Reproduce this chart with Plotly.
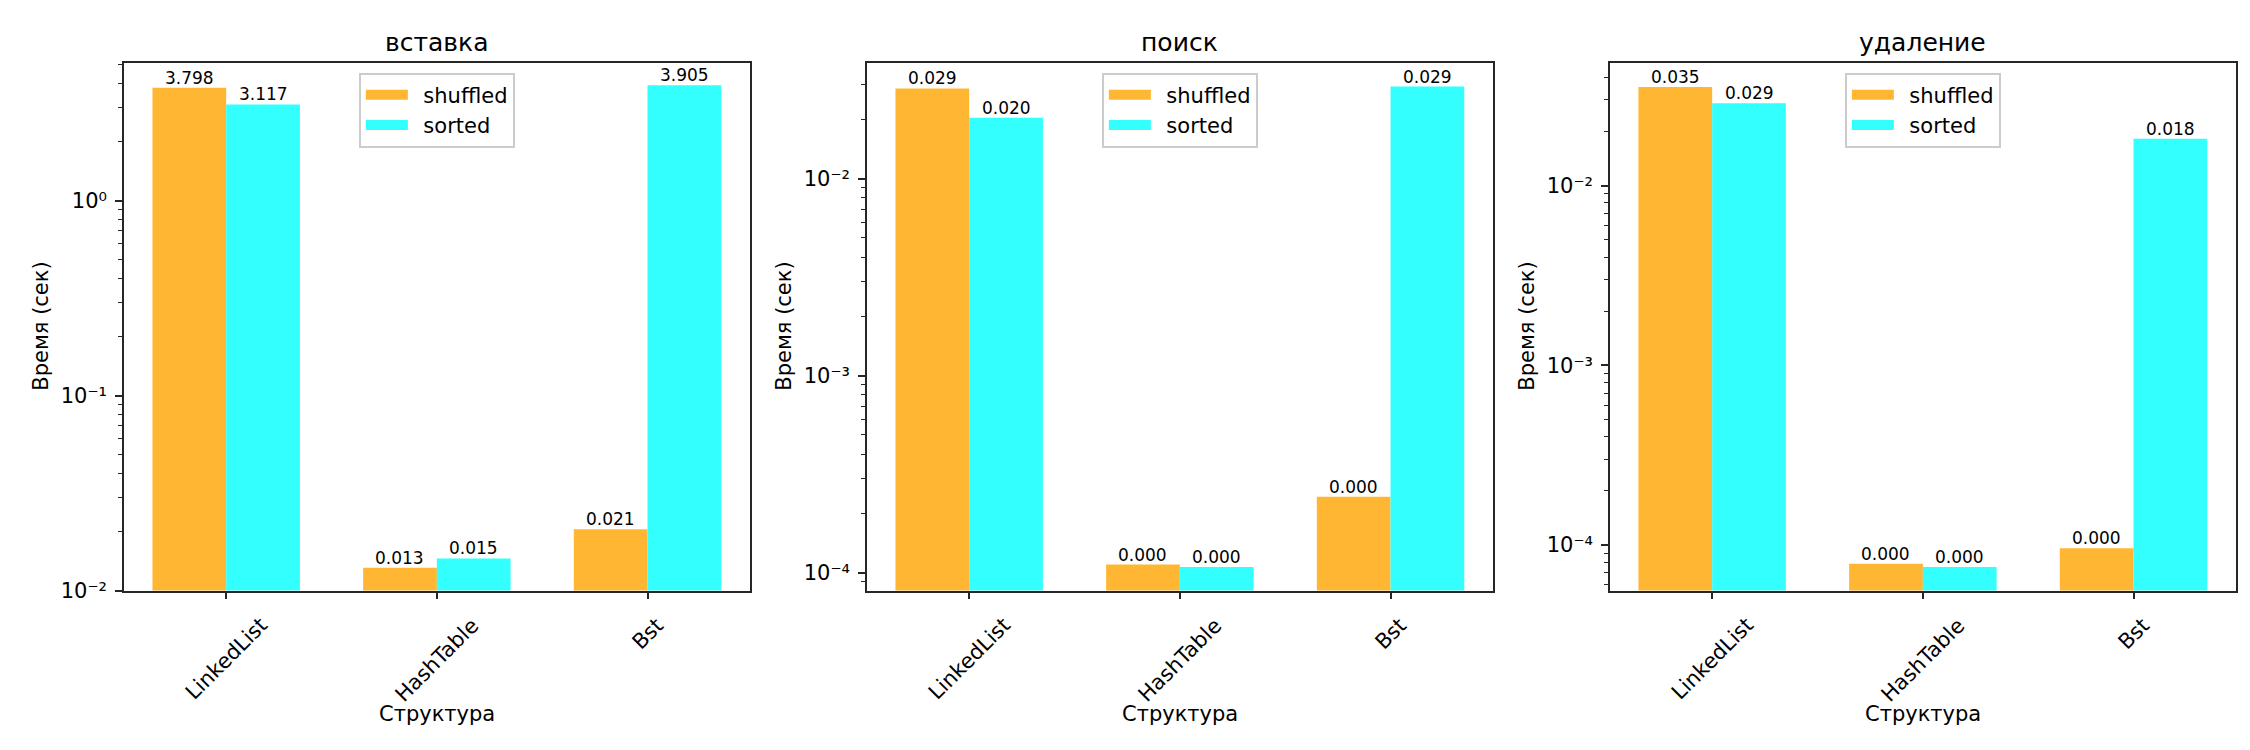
import math
import plotly.graph_objects as go

# Data (seconds)
categories = ["LinkedList", "HashTable", "Bst"]
operations = ["вставка", "поиск", "удаление"]
series_names = ["shuffled", "sorted"]

insert_shuffled = [3.798, 0.0131, 0.0206]
insert_sorted = [3.117, 0.0146, 3.905]
search_shuffled = [0.0287, 0.0001098, 0.000243]
search_sorted = [0.0204, 0.0001068, 0.02935]
delete_shuffled = [0.0354, 0.0000786, 0.0000958]
delete_sorted = [0.0287, 0.0000753, 0.01824]

panel_values = [
    (insert_shuffled, insert_sorted),
    (search_shuffled, search_sorted),
    (delete_shuffled, delete_sorted),
]

# layout of the three panels (paper coords) and log ranges
x_domains = [[0.05156, 0.32964], [0.38178, 0.65987], [0.71200, 0.99009]]
y_domain = [0.21067, 0.92573]
y_ranges = [[-2.0, 0.707], [-4.091, -1.412], [-4.254, -1.317]]
x_range = [-0.485, 2.485]

colors = ["#FFB733", "#33FFFF"]
FONT = "DejaVu Sans"
AXIS_COLOR = "#262626"
SUP = str.maketrans("-0123456789", "\u207b\u2070\u00b9\u00b2\u00b3\u2074\u2075\u2076\u2077\u2078\u2079")

# half a bar width in pixels (bar = 0.35 of a category slot)
panel_px = (x_domains[0][1] - x_domains[0][0]) * 2250
half_bar = 0.35 / (x_range[1] - x_range[0]) * panel_px / 2

fig = go.Figure()
annotations = []
layout = {}

for i, (op, vals) in enumerate(zip(operations, panel_values)):
    n = "" if i == 0 else str(i + 1)
    xa, ya = "x" + n, "y" + n
    leg = "legend" + n

    for j, (name, v, c) in enumerate(zip(series_names, vals, colors)):
        fig.add_trace(go.Bar(
            x=categories, y=v, name=name, showlegend=False,
            marker=dict(color=c, line=dict(width=0)),
            xaxis=xa, yaxis=ya,
        ))
        # wide swatch for the legend, like the reference
        # (en space keeps the gap between swatch and label)
        fig.add_trace(go.Scatter(
            x=[None], y=[None], mode="lines", name="\u2002" + name,
            line=dict(color=c, width=15),
            xaxis=xa, yaxis=ya, legend=leg, hoverinfo="skip",
        ))
        # value labels on top of each bar
        shift = -half_bar if j == 0 else half_bar
        for cat, t in zip(categories, v):
            annotations.append(dict(
                text="%.3f" % t, x=cat, y=math.log10(t), xref=xa, yref=ya,
                xanchor="center", yanchor="bottom", xshift=shift, yshift=-2,
                showarrow=False, font=dict(size=17, color="black", family=FONT),
            ))

    lo, hi = y_ranges[i]
    decades = range(math.floor(lo), math.ceil(hi) + 1)
    majors = [10.0 ** e for e in decades if lo <= e <= hi]
    minors = [k * 10.0 ** e for e in decades for k in range(2, 10)
              if lo <= math.log10(k * 10.0 ** e) <= hi]
    major_text = ["10" + str(round(math.log10(m))).translate(SUP) for m in majors]

    layout["xaxis" + n] = dict(
        domain=x_domains[i], anchor=ya, type="category",
        range=x_range,
        showline=True, mirror=True, linecolor=AXIS_COLOR, linewidth=1.7,
        ticks="outside", ticklen=7, tickwidth=1.7, tickcolor=AXIS_COLOR,
        showticklabels=False, showgrid=False, zeroline=False,
    )
    layout["yaxis" + n] = dict(
        domain=y_domain, anchor=xa, type="log", range=[lo, hi],
        showline=True, mirror=True, linecolor=AXIS_COLOR, linewidth=1.7,
        ticks="outside", ticklen=7, tickwidth=1.7, tickcolor=AXIS_COLOR,
        tickmode="array", tickvals=majors, ticktext=major_text,
        tickfont=dict(size=21, color="black", family=FONT),
        ticklabelstandoff=4,
        minor=dict(tickmode="array", tickvals=minors, ticks="outside",
                   ticklen=4, tickwidth=1.2, tickcolor=AXIS_COLOR,
                   showgrid=False),
        showgrid=False, zeroline=False,
    )

    cx = (x_domains[i][0] + x_domains[i][1]) / 2
    layout[leg] = dict(
        x=cx, xanchor="center", y=0.9124, yanchor="top",
        xref="paper", yref="paper", itemwidth=42,
        bgcolor="rgba(255,255,255,0.8)", bordercolor="#cccccc", borderwidth=2,
        font=dict(size=21, color="black", family=FONT),
        tracegroupgap=0,
    )

    # panel title
    annotations.append(dict(
        text=op, x=cx, y=y_domain[1], xref="paper", yref="paper",
        xanchor="center", yanchor="middle", yshift=20, showarrow=False,
        font=dict(size=25, color="black", family=FONT),
    ))
    # x axis title
    annotations.append(dict(
        text="Структура", x=cx, y=y_domain[0], xref="paper", yref="paper",
        xanchor="center", yanchor="middle", yshift=-123,
        showarrow=False, font=dict(size=21, color="black", family=FONT),
    ))
    # y axis title
    annotations.append(dict(
        text="Время (сек)", x=x_domains[i][0], y=sum(y_domain) / 2,
        xref="paper", yref="paper", xanchor="center", yanchor="middle",
        xshift=-83, textangle=-90, showarrow=False,
        font=dict(size=21, color="black", family=FONT),
    ))
    # rotated category labels, centred under each tick
    for cat in categories:
        annotations.append(dict(
            text=cat, x=cat, y=0, xref=xa, yref=ya + " domain",
            xanchor="center", yanchor="top", yshift=-20, textangle=-45,
            showarrow=False, font=dict(size=21, color="black", family=FONT),
        ))

fig.update_layout(
    width=2250, height=750,
    margin=dict(l=0, r=0, t=0, b=0),
    plot_bgcolor="white", paper_bgcolor="white",
    barmode="group", bargap=0.3, bargroupgap=0,
    annotations=annotations,
    **layout,
)

fig.write_html("out.html")
